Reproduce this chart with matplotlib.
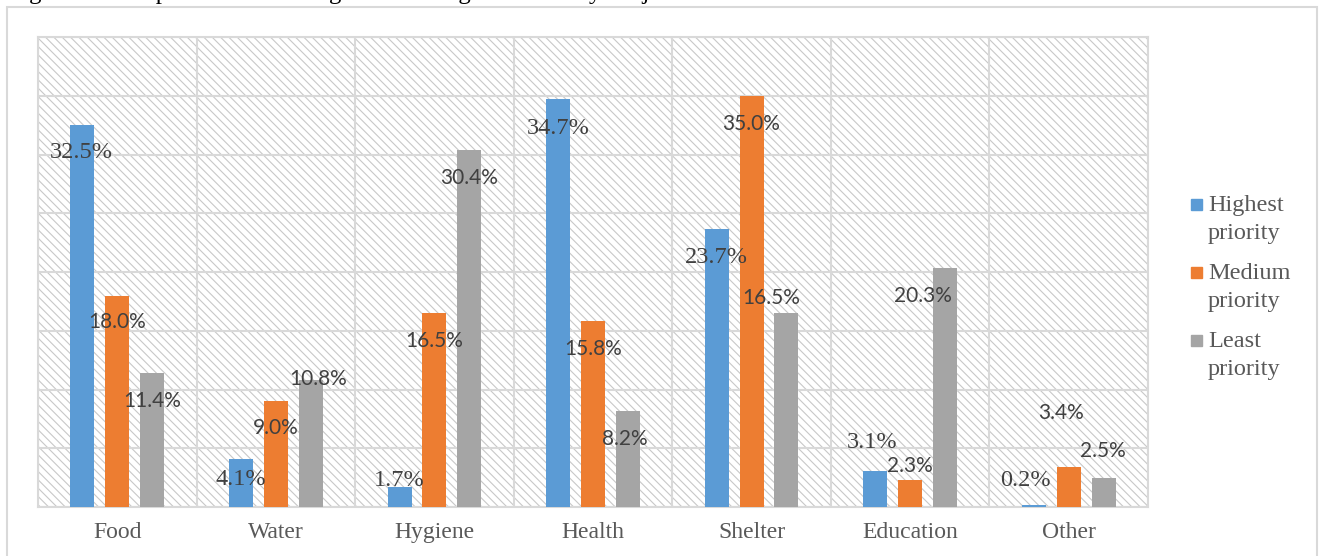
import numpy as np
import matplotlib.pyplot as plt
from matplotlib.patches import Rectangle

# ------------------------------------------------
# Data
# ------------------------------------------------
categories = ["Food", "Water", "Hygiene", "Health", "Shelter", "Education", "Other"]
highest = [32.5, 4.1, 1.7, 34.7, 23.7, 3.1, 0.2]
medium = [18.0, 9.0, 16.5, 15.8, 35.0, 2.3, 3.4]
least = [11.4, 10.8, 30.4, 8.2, 16.5, 20.3, 2.5]
series_names = [("Highest", "priority"), ("Medium", "priority"), ("Least", "priority")]
title = "Figure 10: Respondents' Ranking of Most Urgent Needs by Project sites"

# label nudges in pixels (dx, dy) from the top centre of each bar
hi_off = [(-1, -27), (0, -21), (0, 7), (0, -29), (0, -29), (-3, 28), (-8, 24)]
med_off = [(0, -27), (0, -27), (0, -28), (0, -28), (0, -28), (0, 14), (-8, 54)]
low_off = [(0, -28), (7, 1), (0, -28), (-3, -28), (-15, 15), (-22, -28), (-1, 27)]

colors = ["#5B9BD5", "#ED7D31", "#A5A5A5"]
grid_col = "#d9d9d9"
text_col = "#404040"
serif = "Liberation Serif"
sans = "Lato"

W, H = 1319, 556
plt.rcParams["hatch.linewidth"] = 0.8


def fx(px):
    return px / W


def fy(py):
    return 1 - py / H


fig = plt.figure(figsize=(W / 100, H / 100), dpi=100)
ax = fig.add_axes([fx(38), fy(507), fx(1148 - 38), (507 - 37) / H])

# hatched plot area
ax.add_patch(Rectangle((0, 0), 1, 1, transform=ax.transAxes, facecolor="white",
                       edgecolor="#c8c8c8", hatch="\\\\\\\\", lw=0, zorder=0))

x = np.arange(len(categories))
width = 0.151
shift = 0.22
groups = [(highest, hi_off, serif, 17.5), (medium, med_off, sans, 15), (least, low_off, sans, 15)]

for i, (vals, offs, fam, fs) in enumerate(groups):
    xs = x + (i - 1) * shift
    ax.bar(xs, vals, width, color=colors[i], zorder=3)
    for xi, v, (dx, dy) in zip(xs, vals, offs):
        ax.annotate(f"{v:.1f}%", xy=(xi, v), xytext=(dx, dy), textcoords="offset pixels",
                    ha="center", va="center", fontsize=fs, family=fam, color=text_col,
                    zorder=5)

ax.set_xlim(-0.5, len(categories) - 0.5)
ax.set_ylim(0, 40)
ax.set_yticks(np.arange(0, 41, 5))
ax.set_yticklabels([])
ax.set_xticks(x)
ax.set_xticklabels(categories, family=serif, fontsize=17, color="#595959")
ax.set_xticks(np.arange(-0.5, len(categories), 1), minor=True)
ax.tick_params(which="both", length=0)
ax.tick_params(axis="x", pad=11)
ax.set_axisbelow(True)
ax.yaxis.grid(True, color=grid_col, lw=1.5, zorder=1)
ax.xaxis.grid(True, which="minor", color=grid_col, lw=1.5, zorder=1)
for s in ax.spines.values():
    s.set_color(grid_col)
    s.set_linewidth(1.5)

# legend drawn by hand so the swatch sits beside the first line
for i, (l1, l2) in enumerate(series_names):
    base = 211 + 68 * i
    fig.add_artist(Rectangle((fx(1191), fy(base - 1)), fx(11), 11 / H,
                             transform=fig.transFigure, color=colors[i]))
    fig.text(fx(1208), fy(base), l1, family=serif, fontsize=17.5, color="#595959", va="baseline")
    fig.text(fx(1208), fy(base + 28), l2, family=serif, fontsize=17.5, color="#595959", va="baseline")

# chart border and caption running off the top
fig.add_artist(Rectangle((fx(7), -0.1), fx(1317 - 7), fy(7) + 0.1, transform=fig.transFigure,
                         fill=False, edgecolor=grid_col, lw=1.5))
fig.text(fx(8), fy(-0.5), title, family=serif, fontsize=18, color="black", va="baseline")

fig.savefig("out.png", dpi=100)
